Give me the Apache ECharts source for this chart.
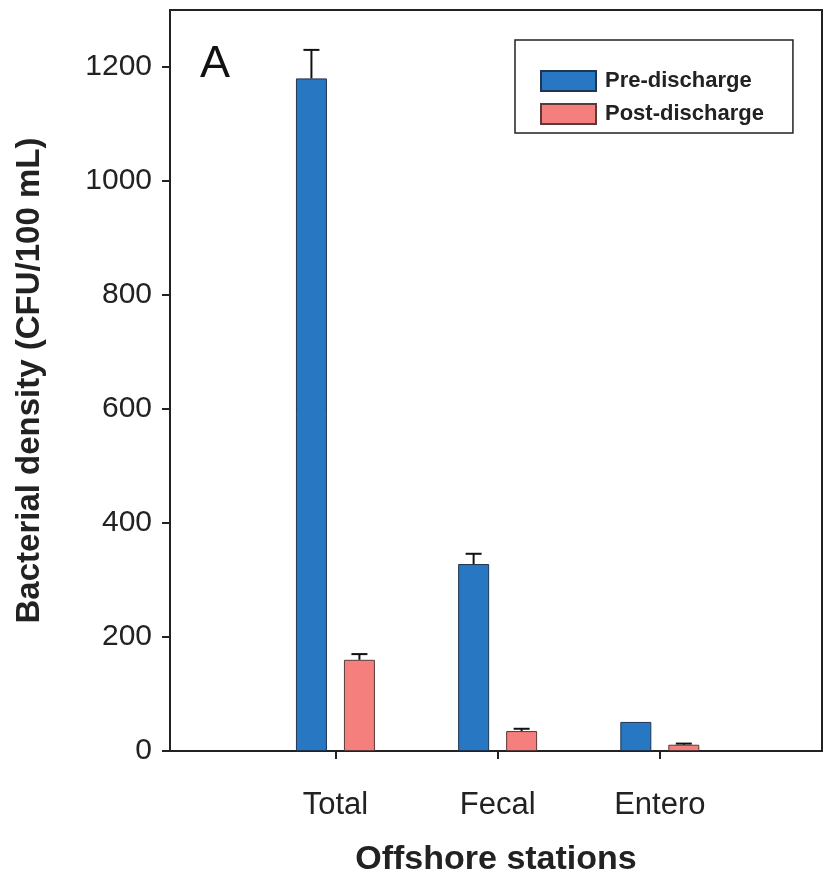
<!DOCTYPE html>
<html>
<head>
<meta charset="utf-8">
<script src="https://cdn.jsdelivr.net/npm/echarts@6/dist/echarts.min.js"></script>
<style>
html,body{margin:0;padding:0;background:#fff;}
#chart{width:830px;height:883px;}
</style>
</head>
<body>
<div id="chart"></div>
<script>
const categories = ['Total', 'Fecal', 'Entero'];
const categoryPositions = [1, 2, 3];
const preValues = [1180, 328, 51];
const preErrors = [50, 18, 0];
const postValues = [160, 35, 11];
const postErrors = [10, 4, 2];
const yTicks = [0, 200, 400, 600, 800, 1000, 1200];
const seriesNames = ['Pre-discharge', 'Post-discharge'];

const FONT = 'Liberation Sans, Arial, sans-serif';
const BAR_W = 31;
const BAR_GAP_PX = 17;
const OFFSET = (BAR_W + BAR_GAP_PX) / 2;

function errData(vals, errs) {
  return categoryPositions.map((x, i) => [x, vals[i], errs[i]]);
}
function makeErr(name, vals, errs, dir) {
  return {
    type: 'custom',
    name: name + ' err',
    z: 10,
    silent: true,
    data: errData(vals, errs),
    renderItem: function (params, api) {
      const x = api.value(0), v = api.value(1), e = api.value(2);
      if (!e) return null;
      const p0 = api.coord([x, v]);
      const p1 = api.coord([x, v + e]);
      const cx = p0[0] + dir * OFFSET;
      const capHalf = 8;
      const style = { stroke: '#111', lineWidth: 2, fill: null };
      return {
        type: 'group',
        children: [
          { type: 'line', shape: { x1: cx, y1: p0[1], x2: cx, y2: p1[1] }, style: style },
          { type: 'line', shape: { x1: cx - capHalf, y1: p1[1], x2: cx + capHalf, y2: p1[1] }, style: style }
        ]
      };
    }
  };
}

const chart = echarts.init(document.getElementById('chart'), null, { renderer: 'canvas' });
chart.setOption({
  backgroundColor: '#fff',
  animation: false,
  textStyle: { fontFamily: FONT },
  grid: { left: 170, right: 8, top: 10, bottom: 132, show: true, borderColor: '#222', borderWidth: 2, backgroundColor: 'transparent' },
  legend: {
    orient: 'vertical',
    left: 515, top: 40,
    padding: [30, 29, 8, 25],
    borderColor: '#222', borderWidth: 1.5,
    itemWidth: 55, itemHeight: 20, itemGap: 11,
    icon: 'rect',
    data: seriesNames,
    textStyle: { fontSize: 22, fontWeight: 'bold', color: '#222', fontFamily: FONT, padding: [0, 0, 0, 4] }
  },
  graphic: [{
    type: 'text', left: 200, top: 42,
    style: { text: 'A', fontSize: 45, fill: '#111', fontFamily: FONT }
  }],
  xAxis: {
    type: 'value', min: -0.02, max: 4, interval: 1,
    name: 'Offshore stations', nameLocation: 'middle', nameGap: 92,
    nameTextStyle: { fontSize: 34, fontWeight: 'bold', color: '#222', fontFamily: FONT },
    axisLine: { show: true, onZero: false, lineStyle: { color: '#222', width: 2 } },
    axisTick: { show: true, inside: false, length: 8, lineStyle: { color: '#222', width: 2 }, customValues: categoryPositions },
    axisLabel: {
      show: true, margin: 39, fontSize: 31, color: '#222', fontFamily: FONT,
      customValues: categoryPositions,
      formatter: function (v) { const i = categoryPositions.indexOf(v); return i >= 0 ? categories[i] : ''; }
    },
    splitLine: { show: false }
  },
  yAxis: {
    type: 'value', min: 0, max: 1300, interval: 200,
    name: 'Bacterial density (CFU/100 mL)', nameLocation: 'middle', nameGap: 124,
    nameTextStyle: { fontSize: 33, fontWeight: 'bold', color: '#222', fontFamily: FONT },
    axisLine: { show: true, onZero: false, lineStyle: { color: '#222', width: 2 } },
    axisTick: { show: true, inside: false, length: 8, lineStyle: { color: '#222', width: 2 }, customValues: yTicks },
    axisLabel: { margin: 18, fontSize: 30, color: '#222', fontFamily: FONT, customValues: yTicks, formatter: function (v) { return String(v); } },
    splitLine: { show: false }
  },
  series: [
    {
      type: 'bar', name: seriesNames[0],
      barWidth: BAR_W, barGap: (BAR_GAP_PX / BAR_W * 100).toFixed(1) + '%',
      itemStyle: { color: '#2777c3', borderColor: '#1f3550', borderWidth: 1 },
      data: categoryPositions.map((x, i) => [x, preValues[i]])
    },
    {
      type: 'bar', name: seriesNames[1],
      barWidth: BAR_W,
      itemStyle: { color: '#f47f7c', borderColor: '#5a3a3a', borderWidth: 1 },
      data: categoryPositions.map((x, i) => [x, postValues[i]])
    },
    makeErr(seriesNames[0], preValues, preErrors, -1),
    makeErr(seriesNames[1], postValues, postErrors, 1)
  ]
});
</script>
</body>
</html>
